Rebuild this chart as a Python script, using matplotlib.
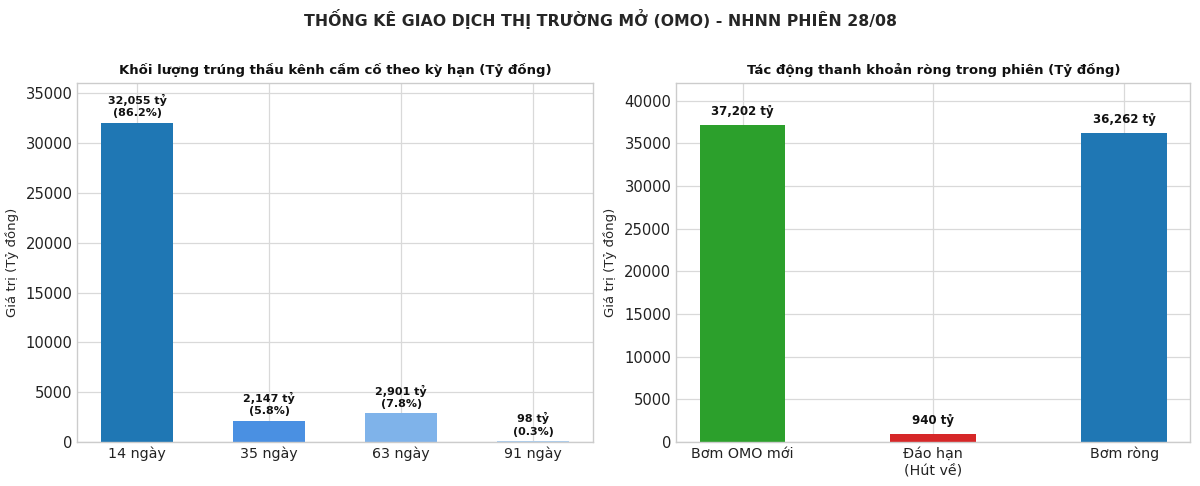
import matplotlib
matplotlib.use("Agg")
import matplotlib.pyplot as plt

plt.style.use("seaborn-v0_8-whitegrid")
plt.rcParams['font.family'] = ['DejaVu Sans']

# Data
terms = ["14 ngày", "35 ngày", "63 ngày", "91 ngày"]
term_values = [32055, 2147, 2901, 98]
term_pcts = [86.2, 5.8, 7.8, 0.3]
term_colors = ["#1f77b4", "#4a90e2", "#7fb3ea", "#a9cdf0"]

flow_labels = ["Bơm OMO mới", "Đáo hạn\n(Hút về)", "Bơm ròng"]
flow_values = [37202, 940, 36262]
flow_colors = ["#2ca02c", "#d62728", "#1f77b4"]

fig = plt.figure(figsize=(12, 4.86), dpi=100)
ax1 = fig.add_axes([0.0645, 0.0905, 0.4295, 0.738])
ax2 = fig.add_axes([0.5635, 0.0905, 0.4285, 0.738])

fig.suptitle("THỐNG KÊ GIAO DỊCH THỊ TRƯỜNG MỞ (OMO) - NHNN PHIÊN 28/08",
             fontsize=11.3, fontweight="bold", y=0.982)

# Left chart
x1 = range(len(terms))
bars1 = ax1.bar(x1, term_values, width=0.55, color=term_colors)
for b, v, p in zip(bars1, term_values, term_pcts):
    ax1.annotate(f"{v:,} tỷ\n({p}%)", (b.get_x() + b.get_width() / 2, v),
                 xytext=(0, 3), textcoords="offset points",
                 ha="center", va="bottom", fontsize=8, fontweight="bold",
                 linespacing=1.3, color="#111111")
ax1.set_xticks(list(x1))
ax1.set_xticklabels(terms, fontsize=10.3)
ax1.tick_params(axis="y", labelsize=10.6)
ax1.set_ylim(0, max(term_values) * 1.123)
ax1.set_ylabel("Giá trị (Tỷ đồng)", fontsize=9.5, labelpad=5)
ax1.set_title("Khối lượng trúng thầu kênh cầm cố theo kỳ hạn (Tỷ đồng)",
              fontsize=9.5, fontweight="bold", pad=7, color="#111111")

# Right chart
x2 = range(len(flow_labels))
bars2 = ax2.bar(x2, flow_values, width=0.45, color=flow_colors)
for b, v in zip(bars2, flow_values):
    ax2.annotate(f"{v:,} tỷ", (b.get_x() + b.get_width() / 2, v),
                 xytext=(0, 5), textcoords="offset points",
                 ha="center", va="bottom", fontsize=8.5, fontweight="bold",
                 color="#111111")
ax2.set_xticks(list(x2))
ax2.set_xticklabels(flow_labels, fontsize=10.3)
ax2.tick_params(axis="y", labelsize=10.6)
ax2.set_ylim(0, max(flow_values) * 1.13)
ax2.set_ylabel("Giá trị (Tỷ đồng)", fontsize=9.5, labelpad=5)
ax2.set_title("Tác động thanh khoản ròng trong phiên (Tỷ đồng)",
              fontsize=9.5, fontweight="bold", pad=7, color="#111111")

for ax in (ax1, ax2):
    for s in ax.spines.values():
        s.set_visible(True)
        s.set_color("#cccccc")
        s.set_linewidth(1.0)
    ax.grid(True, color="#d9d9d9", linewidth=0.9)
    ax.tick_params(axis="both", length=0, pad=3.5, colors="#222222")

fig.savefig("out.png", dpi=100)
